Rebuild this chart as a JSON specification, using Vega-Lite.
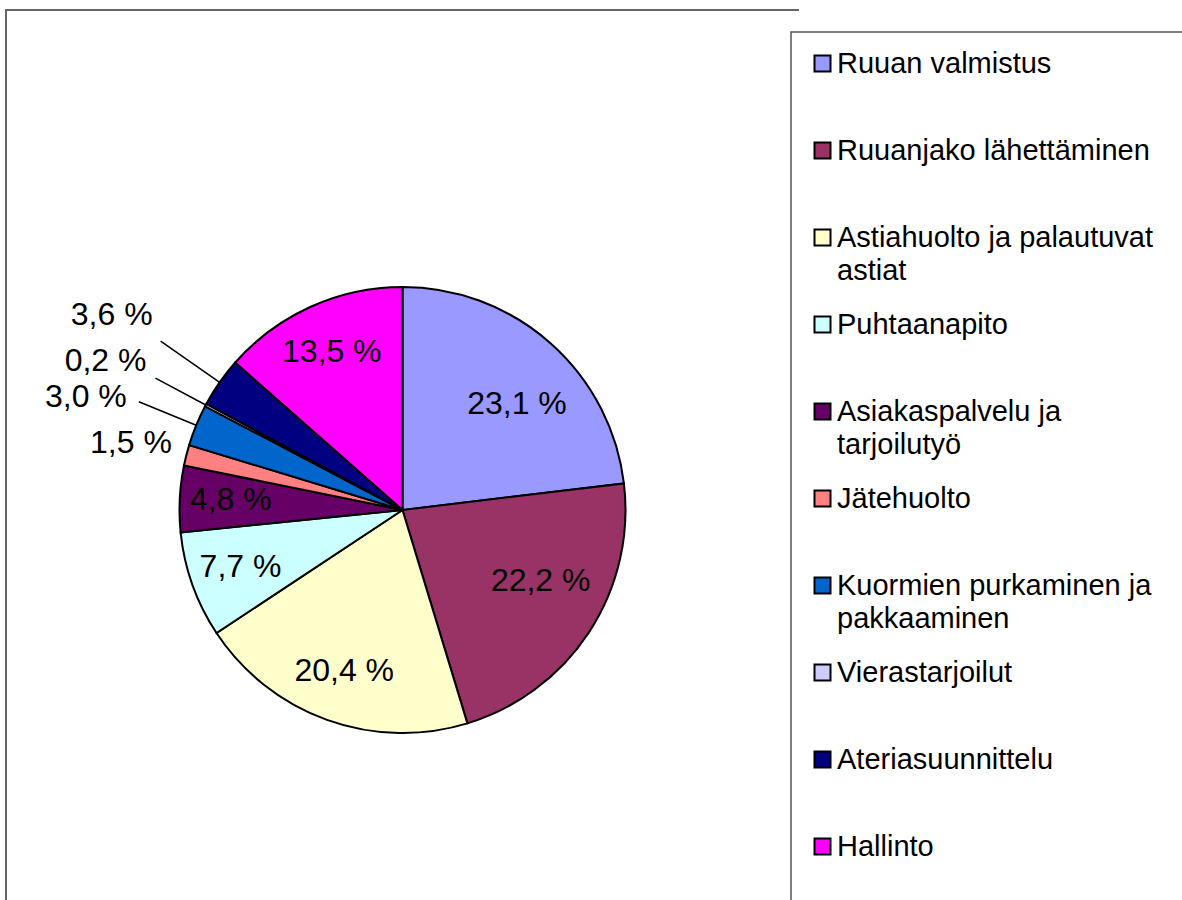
{
  "$schema": "https://vega.github.io/schema/vega-lite/v6.json",
  "width": 793,
  "height": 1000,
  "autosize": {"type": "none"},
  "padding": {"left": 6, "top": 10, "right": 383, "bottom": -110},
  "background": "white",
  "view": {"stroke": "#666666", "strokeWidth": 2, "strokeDash": [793, 1793, 1000]},
  "config": {
    "view": {"stroke": "#666666", "strokeWidth": 2, "strokeDash": [793, 1793, 1000]},
    "locale": {"number": {"decimal": ",", "thousands": " ", "grouping": [3], "currency": ["", " €"], "percent": " %"}},
    "text": {"font": "Liberation Sans"}
  },
  "data": {
    "values": [
      {"n": 1, "category": "Ruuan valmistus", "share": 0.231},
      {"n": 2, "category": "Ruuanjako lähettäminen", "share": 0.222},
      {"n": 3, "category": "Astiahuolto ja palautuvat astiat", "share": 0.204},
      {"n": 4, "category": "Puhtaanapito", "share": 0.077},
      {"n": 5, "category": "Asiakaspalvelu ja tarjoilutyö", "share": 0.048},
      {"n": 6, "category": "Jätehuolto", "share": 0.015},
      {"n": 7, "category": "Kuormien purkaminen ja pakkaaminen", "share": 0.030},
      {"n": 8, "category": "Vierastarjoilut", "share": 0.002},
      {"n": 9, "category": "Ateriasuunnittelu", "share": 0.036},
      {"n": 10, "category": "Hallinto", "share": 0.135}
    ]
  },
  "encoding": {
    "theta": {"field": "share", "type": "quantitative", "stack": true},
    "order": {"field": "n", "type": "quantitative"}
  },
  "layer": [
    {
      "mark": {"type": "arc", "outerRadius": 223, "stroke": "black", "strokeWidth": 2},
      "encoding": {
        "color": {
          "field": "category",
          "type": "nominal",
          "scale": {
            "domain": ["Ruuan valmistus", "Ruuanjako lähettäminen", "Astiahuolto ja palautuvat astiat", "Puhtaanapito", "Asiakaspalvelu ja tarjoilutyö", "Jätehuolto", "Kuormien purkaminen ja pakkaaminen", "Vierastarjoilut", "Ateriasuunnittelu", "Hallinto"],
            "range": ["#9999FF", "#993366", "#FFFFCC", "#CCFFFF", "#660066", "#FF8080", "#0066CC", "#CCCCFF", "#000080", "#FF00FF"]
          },
          "legend": {
            "orient": "none",
            "legendX": 785,
            "legendY": 22,
            "title": null,
            "strokeColor": "#555555",
            "padding": 17,
            "symbolType": "square",
            "symbolSize": 256,
            "symbolStrokeColor": "black",
            "symbolStrokeWidth": 2,
            "labelFont": "Liberation Sans",
            "labelFontSize": 29,
            "labelColor": "black",
            "labelLimit": 500,
            "labelOffset": 0,
            "gridAlign": "all",
            "rowPadding": 24,
            "labelBaseline": "top",
            "labelExpr": "datum.label == 'Astiahuolto ja palautuvat astiat' ? ['Astiahuolto ja palautuvat\u2800', 'astiat'] : datum.label == 'Asiakaspalvelu ja tarjoilutyö' ? ['Asiakaspalvelu ja', 'tarjoilutyö'] : datum.label == 'Kuormien purkaminen ja pakkaaminen' ? ['Kuormien purkaminen ja', 'pakkaaminen'] : datum.label == 'Hallinto' ? ['Hallinto', '\u00a0'] : datum.label",
            "encode": {
              "labels": {"update": {"dy": {"value": -14}, "lineHeight": {"value": 33}}},
              "legend": {"update": {"strokeWidth": {"value": 1.5}}}
            }
          }
        }
      }
    },
    {
      "mark": {"type": "text", "radius": 172, "fontSize": 32, "font": "Liberation Sans", "dy": -1},
      "encoding": {
        "detail": {"field": "category", "type": "nominal"},
        "color": {"value": "black"},
        "text": {"condition": {"test": "indexof(['Astiahuolto ja palautuvat astiat', 'Puhtaanapito', 'Asiakaspalvelu ja tarjoilutyö', 'Hallinto'], datum.category) >= 0", "field": "share", "type": "quantitative", "format": ".1%"}, "value": ""}
      }
    },
    {
      "mark": {"type": "text", "radius": 165, "fontSize": 32, "font": "Liberation Sans", "dx": 5, "dy": 17},
      "encoding": {
        "detail": {"field": "category", "type": "nominal"},
        "color": {"value": "black"},
        "text": {"condition": {"test": "datum.category === 'Ruuan valmistus'", "field": "share", "type": "quantitative", "format": ".1%"}, "value": ""}
      }
    },
    {
      "mark": {"type": "text", "radius": 165, "fontSize": 32, "font": "Liberation Sans", "dy": -19},
      "encoding": {
        "detail": {"field": "category", "type": "nominal"},
        "color": {"value": "black"},
        "text": {"condition": {"test": "datum.category === 'Ruuanjako lähettäminen'", "field": "share", "type": "quantitative", "format": ".1%"}, "value": ""}
      }
    },
    {
      "mark": {"type": "text", "radius": 240, "fontSize": 32, "font": "Liberation Sans", "align": "right", "dx": 2, "dy": -8},
      "encoding": {
        "detail": {"field": "category", "type": "nominal"},
        "color": {"value": "black"},
        "text": {"condition": {"test": "datum.category === 'Jätehuolto'", "field": "share", "type": "quantitative", "format": ".1%"}, "value": ""}
      }
    },
    {
      "mark": {"type": "text", "radius": 298, "fontSize": 32, "font": "Liberation Sans", "align": "right"},
      "encoding": {
        "detail": {"field": "category", "type": "nominal"},
        "color": {"value": "black"},
        "text": {"condition": {"test": "datum.category === 'Kuormien purkaminen ja pakkaaminen'", "field": "share", "type": "quantitative", "format": ".1%"}, "value": ""}
      }
    },
    {
      "mark": {"type": "text", "radius": 280, "fontSize": 32, "font": "Liberation Sans", "align": "right", "dx": -9, "dy": -17},
      "encoding": {
        "detail": {"field": "category", "type": "nominal"},
        "color": {"value": "black"},
        "text": {"condition": {"test": "datum.category === 'Vierastarjoilut'", "field": "share", "type": "quantitative", "format": ".1%"}, "value": ""}
      }
    },
    {
      "mark": {"type": "text", "radius": 295, "fontSize": 32, "font": "Liberation Sans", "align": "right", "dx": -8, "dy": -26},
      "encoding": {
        "detail": {"field": "category", "type": "nominal"},
        "color": {"value": "black"},
        "text": {"condition": {"test": "datum.category === 'Ateriasuunnittelu'", "field": "share", "type": "quantitative", "format": ".1%"}, "value": ""}
      }
    },
    {
      "mark": {"type": "arc", "filled": false, "innerRadius": 223, "outerRadius": 285, "padAngle": 0.6, "strokeWidth": 1.5},
      "encoding": {
        "detail": {"field": "category", "type": "nominal"},
        "color": {"value": "black"},
        "strokeOpacity": {"condition": {"test": "datum.category === 'Kuormien purkaminen ja pakkaaminen'", "value": 1}, "value": 0}
      }
    },
    {
      "mark": {"type": "arc", "filled": false, "innerRadius": 223, "outerRadius": 280, "padAngle": 0.6, "strokeWidth": 1.5},
      "encoding": {
        "detail": {"field": "category", "type": "nominal"},
        "color": {"value": "black"},
        "strokeOpacity": {"condition": {"test": "datum.category === 'Vierastarjoilut'", "value": 1}, "value": 0}
      }
    },
    {
      "mark": {"type": "arc", "filled": false, "innerRadius": 223, "outerRadius": 295, "padAngle": 0.6, "strokeWidth": 1.5},
      "encoding": {
        "detail": {"field": "category", "type": "nominal"},
        "color": {"value": "black"},
        "strokeOpacity": {"condition": {"test": "datum.category === 'Ateriasuunnittelu'", "value": 1}, "value": 0}
      }
    }
  ]
}
